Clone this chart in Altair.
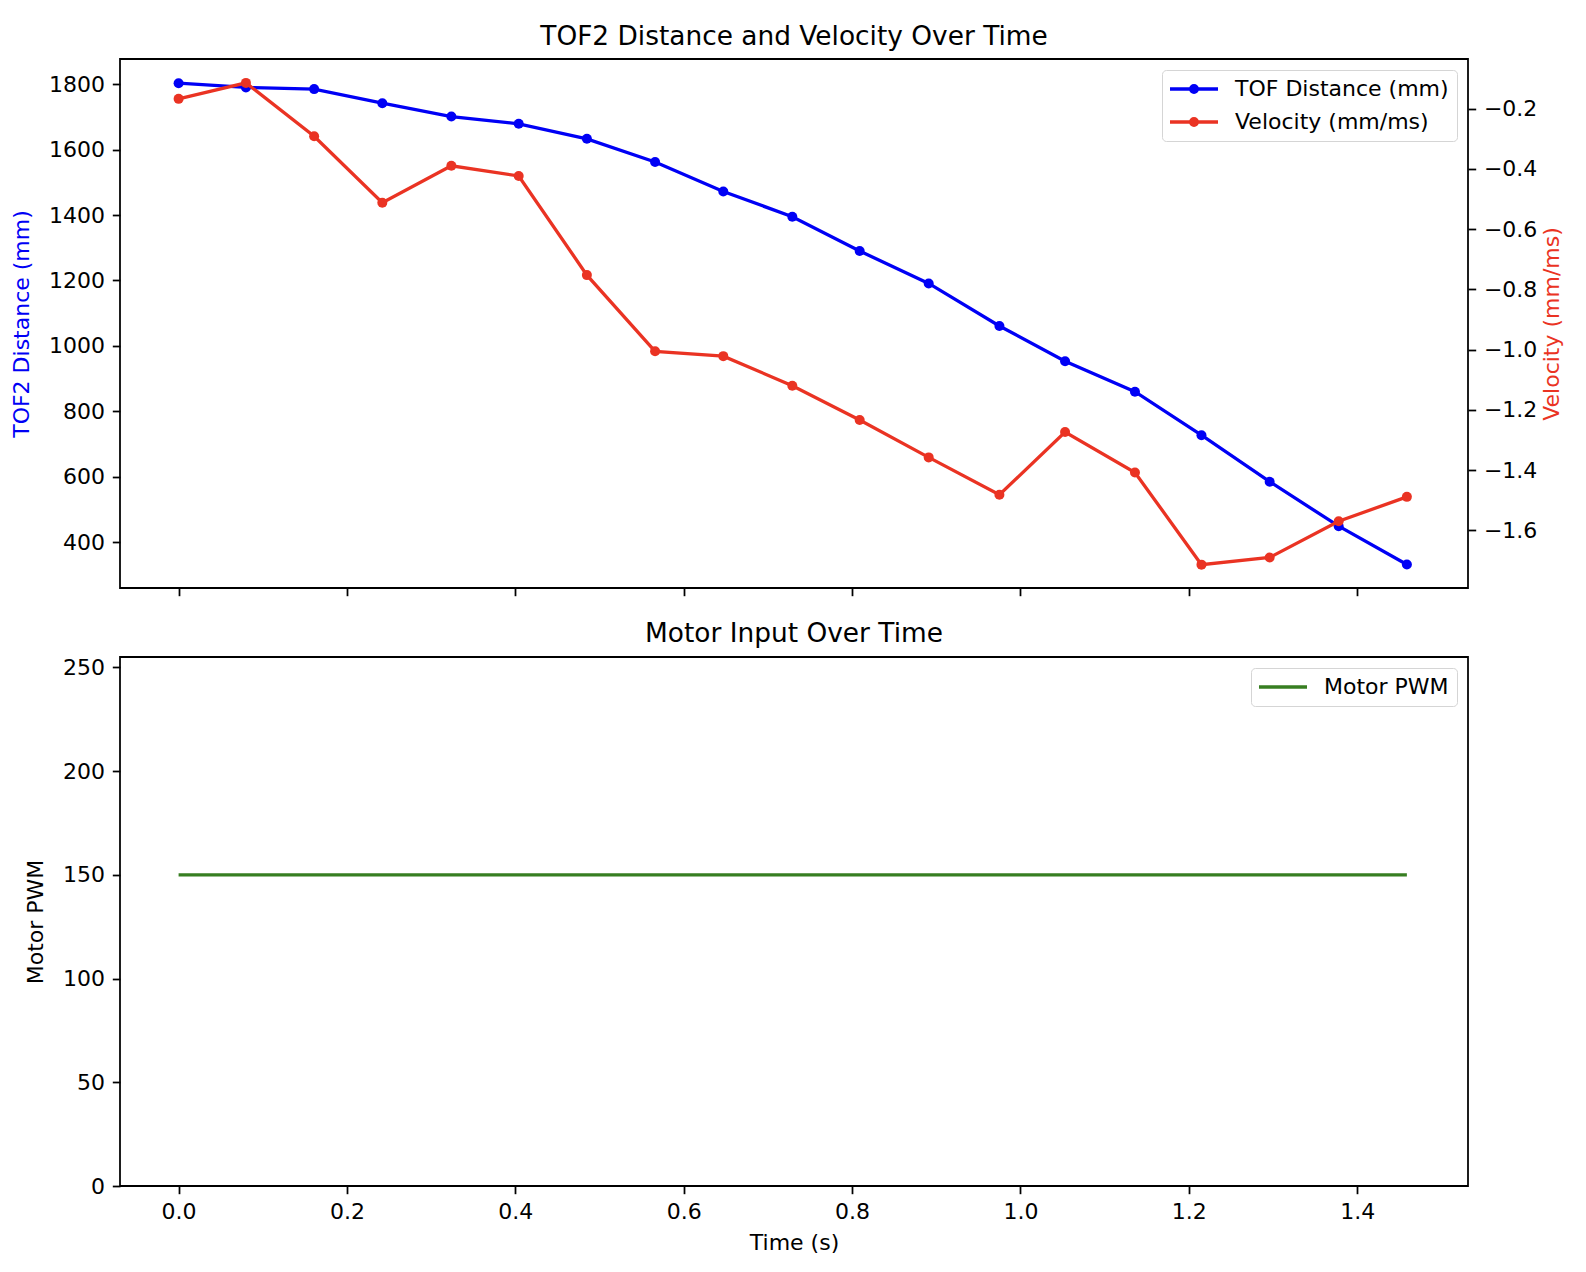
import altair as alt
import pandas as pd

# ---- data ----
time_s = [0.000, 0.080, 0.161, 0.242, 0.324, 0.404, 0.485, 0.566, 0.647, 0.729,
          0.809, 0.891, 0.975, 1.053, 1.136, 1.215, 1.296, 1.378, 1.459]
tof_mm = [1803, 1790, 1785, 1742, 1701, 1679, 1633, 1562, 1472, 1395,
          1290, 1191, 1061, 953, 860, 727, 585, 449, 332]
velocity = [-0.168, -0.115, -0.292, -0.513, -0.390, -0.424, -0.753, -1.006, -1.022, -1.120,
            -1.234, -1.358, -1.482, -1.274, -1.408, -1.714, -1.690, -1.570, -1.489]
motor_pwm = [150, 150, 150, 150, 150, 150, 150, 150, 150, 150,
             150, 150, 150, 150, 150, 150, 150, 150, 150]

x_ticks = [0.0, 0.2, 0.4, 0.6, 0.8, 1.0, 1.2, 1.4]
tof_ticks = [400, 600, 800, 1000, 1200, 1400, 1600, 1800]
vel_ticks = [-1.6, -1.4, -1.2, -1.0, -0.8, -0.6, -0.4, -0.2]
pwm_ticks = [0, 50, 100, 150, 200, 250]

top_series = ["TOF Distance (mm)", "Velocity (mm/ms)"]
bottom_series = ["Motor PWM"]

BLUE = "#0000f5"
RED = "#ea3323"
GREEN = "#377e21"
FONT = "DejaVu Sans"

df = pd.DataFrame({"time": time_s, "tof": tof_mm, "vel": velocity, "pwm": motor_pwm})

W, H = 1348, 529
x_dom = [-0.0696, 1.5316]

LINE_DOT = ("M-2.667,0L2.667,0"
            "M0.367,0A0.367,0.367,0,1,1,-0.367,0A0.367,0.367,0,1,1,0.367,0Z"
            "M0.111,0A0.111,0.111,0,1,1,-0.111,0A0.111,0.111,0,1,1,0.111,0Z")
LINE_ONLY = "M-2.667,0L2.667,0"


def make_legend(symbol):
    return alt.Legend(
        title=None, orient="top-right", offset=11, padding=8,
        fillColor="white", strokeColor="#d5d5d5", cornerRadius=4,
        rowPadding=11, labelFont=FONT, labelFontSize=22, labelColor="#000000",
        labelLimit=1000,
        symbolType=symbol, symbolSize=324, symbolStrokeWidth=3.3,
        symbolOffset=13, labelOffset=30, symbolOpacity=1,
    )


def make_title(text):
    return alt.Title(text, fontSize=26.4, font=FONT, fontWeight="normal",
                     color="#000000", frame="group", anchor="middle",
                     baseline="alphabetic", offset=-12)


x_top = alt.X("time:Q", scale=alt.Scale(domain=x_dom, nice=False, zero=False),
              axis=alt.Axis(values=x_ticks, labels=False, title=None))
x_bot = alt.X("time:Q", scale=alt.Scale(domain=x_dom, nice=False, zero=False),
              axis=alt.Axis(values=x_ticks, format=".1f", title="Time (s)", titlePadding=10))

color_top = alt.Color("series:N",
                      scale=alt.Scale(domain=top_series, range=[BLUE, RED]),
                      legend=make_legend(LINE_DOT))

pt = alt.OverlayMarkDef(filled=True, size=100, opacity=1)

dist = alt.Chart(df).transform_calculate(series="'TOF Distance (mm)'").mark_line(
    strokeWidth=3.3, point=pt
).encode(
    x=x_top,
    y=alt.Y("tof:Q", scale=alt.Scale(domain=[260, 1877], nice=False, zero=False),
            axis=alt.Axis(orient="left", values=tof_ticks, format="d",
                          title="TOF2 Distance (mm)", titleColor=BLUE, titlePadding=15)),
    color=color_top,
)

vel = alt.Chart(df).transform_calculate(series="'Velocity (mm/ms)'").mark_line(
    strokeWidth=3.3, point=pt
).encode(
    x=x_top,
    y=alt.Y("vel:Q", scale=alt.Scale(domain=[-1.7915, -0.0357], nice=False, zero=False),
            axis=alt.Axis(orient="right", values=vel_ticks, format=".1f",
                          title="Velocity (mm/ms)", titleColor=RED, titlePadding=5,
                          titleAngle=270, titleBaseline="top")),
    color=color_top,
)

top = alt.layer(dist, vel).resolve_scale(y="independent").properties(
    width=W, height=H,
    title=make_title("TOF2 Distance and Velocity Over Time"),
)

bottom = alt.Chart(df).transform_calculate(series="'Motor PWM'").mark_line(
    strokeWidth=3.3
).encode(
    x=x_bot,
    y=alt.Y("pwm:Q", scale=alt.Scale(domain=[0, 255], nice=False, zero=False),
            axis=alt.Axis(values=pwm_ticks, format="d", title="Motor PWM", titlePadding=15)),
    color=alt.Color("series:N", scale=alt.Scale(domain=bottom_series, range=[GREEN]),
                    legend=make_legend(LINE_ONLY)),
).properties(
    width=W, height=H,
    title=make_title("Motor Input Over Time"),
)

chart = alt.vconcat(top, bottom, spacing=22).resolve_scale(
    color="independent"
).resolve_legend(color="independent").properties(
    padding={"left": 1, "top": 14, "right": 5, "bottom": 5},
    background="white",
).configure_view(
    stroke="#000000", strokeWidth=1.76
).configure_axis(
    grid=False, domain=False, tickColor="#000000", tickWidth=1.76, tickSize=7.7,
    labelPadding=7.7, labelFont=FONT, labelFontSize=22, labelColor="#000000",
    titleFont=FONT, titleFontSize=22, titleFontWeight="normal", titleColor="#000000",
)

chart.save("out.html", embed_options={"renderer": "svg", "actions": False})
